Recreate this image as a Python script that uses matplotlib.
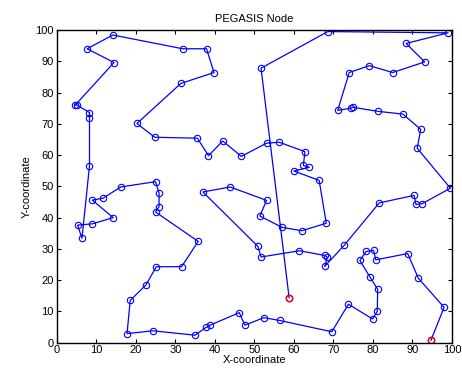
import matplotlib
matplotlib.use("Agg")
import matplotlib.pyplot as plt

# PEGASIS chain, in chain order
chain_x = [94.7, 98.0, 91.5, 88.8, 80.7, 80.2, 78.3, 76.7, 79.3, 81.2,
           81.1, 79.9, 73.8, 69.6, 56.4, 52.4, 47.6, 46.2, 38.8, 37.8,
           35.0, 24.3, 17.8, 18.6, 22.6, 25.2, 31.6, 35.8, 25.0, 25.9,
           25.9, 25.0, 16.2, 11.7, 9.0, 14.3, 9.0, 5.3, 6.4, 8.3,
           8.3, 8.3, 5.1, 4.7, 14.5, 7.7, 14.2, 31.9, 37.9, 39.8,
           31.4, 20.3, 24.8, 35.6, 38.4, 42.0, 46.7, 53.1, 56.3, 62.8,
           62.4, 63.9, 60.0, 66.4, 68.2, 62.0, 57.0, 51.4, 53.1, 43.9,
           37.0, 50.9, 51.7, 61.4, 67.8, 68.5, 67.8, 72.7, 81.6, 90.4,
           90.9, 92.5, 99.6, 91.2, 92.1, 87.6, 81.2, 74.9, 74.5, 71.1,
           74.0, 79.1, 85.0, 93.1, 88.4, 99.0, 68.6, 51.7, 58.8]
chain_y = [0.8, 11.3, 20.6, 28.5, 26.5, 29.5, 29.2, 26.3, 20.9, 17.1,
           10.0, 7.6, 12.3, 3.5, 7.1, 8.0, 5.6, 9.6, 5.6, 4.9,
           2.4, 3.8, 2.9, 13.5, 18.5, 24.3, 24.3, 32.4, 41.8, 43.5,
           47.9, 51.5, 49.8, 46.2, 45.6, 40.0, 38.0, 37.6, 33.4, 56.6,
           71.9, 73.6, 76.0, 76.0, 89.6, 94.0, 98.4, 94.0, 94.0, 86.4,
           82.9, 70.1, 65.7, 65.4, 59.8, 64.5, 59.6, 63.8, 64.1, 61.1,
           56.7, 56.1, 54.9, 51.9, 38.2, 35.8, 36.9, 40.5, 45.5, 49.8,
           48.2, 30.8, 27.4, 29.4, 27.9, 27.3, 24.4, 31.1, 44.7, 47.1,
           44.2, 44.5, 49.4, 62.2, 68.2, 73.1, 74.0, 75.3, 75.0, 74.3,
           86.4, 88.6, 86.4, 89.8, 95.7, 99.1, 99.5, 87.8, 14.4]

# highlighted nodes (red)
red_x = [94.7, 58.8]
red_y = [0.8, 14.4]

ticks = [0, 10, 20, 30, 40, 50, 60, 70, 80, 90, 100]

plt.rcParams["font.family"] = ["Liberation Sans", "DejaVu Sans"]
fig = plt.figure(figsize=(4.62, 3.76), dpi=100)
ax = fig.add_axes([0.1227, 0.0886, 0.8556, 0.8316])

ax.plot(chain_x, chain_y, "-o", color="blue", lw=0.9, ms=4.6,
        mfc="none", mec="blue", mew=0.8)
ax.plot(red_x, red_y, "o", ms=4.6, mfc="none", mec="red", mew=1.0)

ax.set_xlim(0, 100)
ax.set_ylim(0, 100)
ax.set_xticks(ticks)
ax.set_yticks(ticks)
ax.tick_params(direction="in", length=3, labelsize=8, top=True, right=True,
               pad=2)
for s in ax.spines.values():
    s.set_linewidth(1.0)

ax.set_title("PEGASIS Node", fontsize=8, pad=6)
ax.set_xlabel("X-coordinate", fontsize=8, labelpad=0)
ax.set_ylabel("Y-coordinate", fontsize=8, labelpad=3)

fig.savefig("out.png", dpi=100, facecolor="white")
